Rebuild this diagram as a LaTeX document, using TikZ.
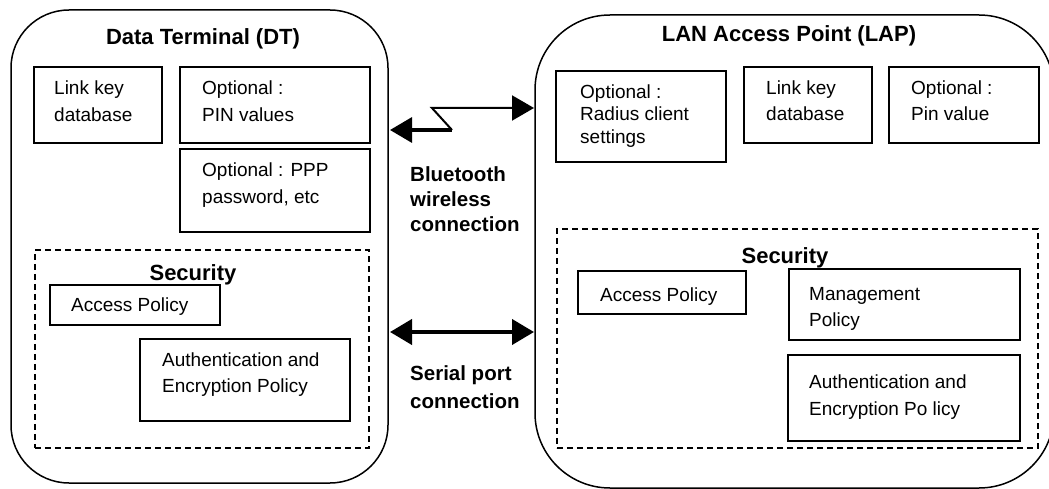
\documentclass[tikz,border=0pt]{standalone}
\usepackage{fontspec}
\setmainfont{Liberation Sans}
\usetikzlibrary{arrows.meta}
\begin{document}
\begin{tikzpicture}[x=1pt,y=-1pt,
  >={Triangle[length=22pt,width=25pt]},
  outer/.style={draw, line width=1.5pt, inner sep=0pt},
  box/.style={draw, line width=1.8pt, inner sep=0pt, anchor=north west},
  secbox/.style={draw, line width=1.8pt, dash pattern=on 6pt off 4pt, inner sep=0pt, anchor=north west},
  txt/.style={inner sep=0pt, anchor=north west, align=left, font=\fontsize{19}{26.8}\selectfont},
  txtr/.style={inner sep=0pt, anchor=north west, align=left, font=\fontsize{19}{22.4}\selectfont},
  title/.style={inner sep=0pt, anchor=base, font=\bfseries\fontsize{22}{26}\selectfont},
  conn/.style={inner sep=0pt, anchor=north west, align=left, font=\bfseries\fontsize{20.5}{25}\selectfont},
  conn2/.style={inner sep=0pt, anchor=north west, align=left, font=\bfseries\fontsize{20.5}{27.6}\selectfont}
]
\useasboundingbox (0,0) rectangle (1049,489);

% outer shapes
\node[outer, minimum width=377pt, minimum height=473pt, rounded corners=58pt] (dt) at (199.5,246.5) {};
\node[outer, minimum width=519pt, minimum height=473pt, rounded corners=75pt] (lap) at (794.5,251.5) {};

% titles
\node[title] (dtt) at (203,45) {Data Terminal (DT)};
\node[title] (lapt) at (789,41.7) {LAN Access Point (LAP)};

% left boxes
\node[box, minimum width=128pt, minimum height=76pt] (lk) at (33,66) {};
\node[box, minimum width=190pt, minimum height=76pt] (pin) at (179,66) {};
\node[box, minimum width=190pt, minimum height=83pt] (ppp) at (179,148) {};
\node[secbox, minimum width=334pt, minimum height=198pt] (sec) at (34,249) {};
\node[box, minimum width=170pt, minimum height=40pt] (ap) at (49,284) {};
\node[box, minimum width=210pt, minimum height=82pt] (ae) at (139,338) {};

\node[txt] (lkt) at (54,75.5) {\strut Link key\\database};
\node[txt] (pint) at (202,75.5) {\strut Optional :\\PIN values};
\node[txt] (pppt) at (202,157.9) {\strut Optional : PPP\\password, etc};
\node[title] (sect) at (193,280.7) {Security};
\node[txt] (apt) at (71,292.9) {\strut Access Policy};
\node[txt] (aet) at (162,347.2) {\strut Authentication and\\Encryption Policy};

% right boxes
\node[box, minimum width=170pt, minimum height=91pt] (rad) at (555,70) {};
\node[box, minimum width=128pt, minimum height=76pt] (lk2) at (743,66) {};
\node[box, minimum width=150pt, minimum height=76pt] (pin2) at (888,66) {};
\node[secbox, minimum width=481pt, minimum height=219pt] (sec2) at (556,228) {};
\node[box, minimum width=168pt, minimum height=43pt] (ap2) at (577,270) {};
\node[box, minimum width=231pt, minimum height=71pt] (mg) at (788,268) {};
\node[box, minimum width=232pt, minimum height=86pt] (ae2) at (787,354) {};

\node[txtr] (radt) at (580,82.6) {\strut Optional :\\Radius client\\settings};
\node[txt] (lk2t) at (766,75.2) {\strut Link key\\database};
\node[txt] (pin2t) at (911,75.2) {\strut Optional :\\Pin value};
\node[title] (sec2t) at (785,263) {Security};
\node[txt] (ap2t) at (600,282.9) {\strut Access Policy};
\node[txt] (mgt) at (809,281.2) {\strut Management\\Policy};
\node[txt] (ae2t) at (809,369.5) {\strut Authentication and\\Encryption Po licy};

% connection labels
\node[conn] (btl) at (410,163.5) {\strut Bluetooth\\wireless\\connection};
\node[conn2] (spl) at (410,361.4) {\strut Serial port\\connection};

% connectors
\coordinate (btL) at (390,130);
\coordinate (btA) at (452,130);
\coordinate (btB) at (432,108);
\coordinate (btR) at (534,108);
\coordinate (spL) at (390,332);
\coordinate (spR) at (534,332);
\draw[line width=3.3pt, <-] (btL) -- (btA);
\draw[line width=2pt, ->] (btA) -- (btB) -- (btR);
\draw[line width=4pt, <->] (spL) -- (spR);
\end{tikzpicture}
\end{document}
